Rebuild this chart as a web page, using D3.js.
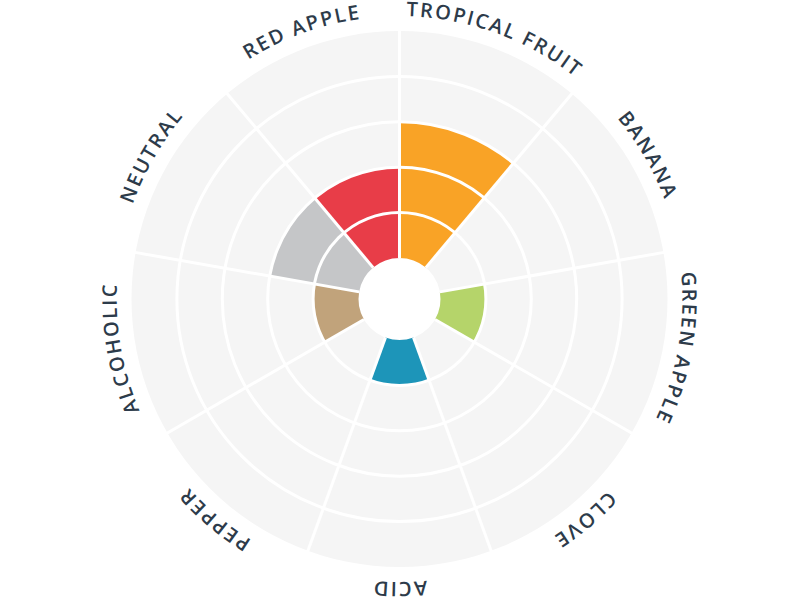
<!DOCTYPE html>
<html>
<head>
<meta charset="utf-8">
<script src="https://cdn.jsdelivr.net/npm/d3@7"></script>
<style>
  html, body { margin: 0; padding: 0; background: #ffffff; }
  svg { display: block; }
</style>
</head>
<body>
<svg id="chart" width="800" height="600"></svg>
<script>
const categories = ["TROPICAL FRUIT", "BANANA", "GREEN APPLE", "CLOVE", "ACID", "PEPPER", "ALCOHOLIC", "NEUTRAL", "RED APPLE"];
const values = [3, 0, 1, 0, 1, 0, 1, 2, 2];
const colors = ["#F9A326", "#F9A326", "#B5D46A", "#1D95B9", "#1D95B9", "#C1A37B", "#C1A37B", "#C5C6C8", "#E83D48"];
const levels = [0, 1, 2, 3, 4, 5];

const cx = 399.5, cy = 299, innerR = 41, outerR = 268, labelR = 283;
const svg = d3.select("#chart");
const g = svg.append("g").attr("transform", `translate(${cx},${cy})`);

const angle = d3.scaleBand().domain(categories).range([0, 2 * Math.PI]).paddingInner(0).paddingOuter(0);
const radius = d3.scaleLinear().domain([0, 5]).range([innerR, outerR]);

// background annulus
g.append("path")
  .attr("d", d3.arc()({innerRadius: innerR, outerRadius: outerR, startAngle: 0, endAngle: 2 * Math.PI}))
  .attr("fill", "#F5F5F5");

// bars
const arc = d3.arc();
g.selectAll("path.bar")
  .data(categories.map((c, i) => ({c, v: values[i], col: colors[i]})).filter(d => d.v > 0))
  .join("path")
  .attr("class", "bar")
  .attr("fill", d => d.col)
  .attr("d", d => arc({
    innerRadius: radius(0),
    outerRadius: radius(d.v),
    startAngle: angle(d.c),
    endAngle: angle(d.c) + angle.bandwidth()
  }));

// rings
g.selectAll("circle.ring")
  .data(levels.slice(1, 5))
  .join("circle")
  .attr("class", "ring")
  .attr("r", d => radius(d))
  .attr("fill", "none")
  .attr("stroke", "#ffffff")
  .attr("stroke-width", 3);

// spokes
g.selectAll("line.spoke")
  .data(categories)
  .join("line")
  .attr("class", "spoke")
  .attr("x1", d => innerR * Math.sin(angle(d)))
  .attr("y1", d => -innerR * Math.cos(angle(d)))
  .attr("x2", d => (outerR + 2) * Math.sin(angle(d)))
  .attr("y2", d => -(outerR + 2) * Math.cos(angle(d)))
  .attr("stroke", "#ffffff")
  .attr("stroke-width", 3);

// label paths
const defs = svg.append("defs");
categories.forEach((c, i) => {
  const mid = angle(c) + angle.bandwidth() / 2;
  const a0 = mid - Math.PI / 2, a1 = mid + Math.PI / 2;
  const p0 = [cx + labelR * Math.sin(a0), cy - labelR * Math.cos(a0)];
  const p1 = [cx + labelR * Math.sin(a1), cy - labelR * Math.cos(a1)];
  defs.append("path")
    .attr("id", "lp" + i)
    .attr("d", `M${p0[0]},${p0[1]} A${labelR},${labelR} 0 0 1 ${p1[0]},${p1[1]}`);
});

svg.append("g").selectAll("text")
  .data(categories)
  .join("text")
  .attr("font-family", "'Open Sans', sans-serif")
  .attr("font-size", 20)
  .attr("font-weight", 600)
  .attr("fill", "#2D3B4A")
  .attr("letter-spacing", 2)
  .append("textPath")
  .attr("href", (d, i) => "#lp" + i)
  .attr("startOffset", "50%")
  .attr("text-anchor", "middle")
  .text(d => d);
</script>
</body>
</html>
